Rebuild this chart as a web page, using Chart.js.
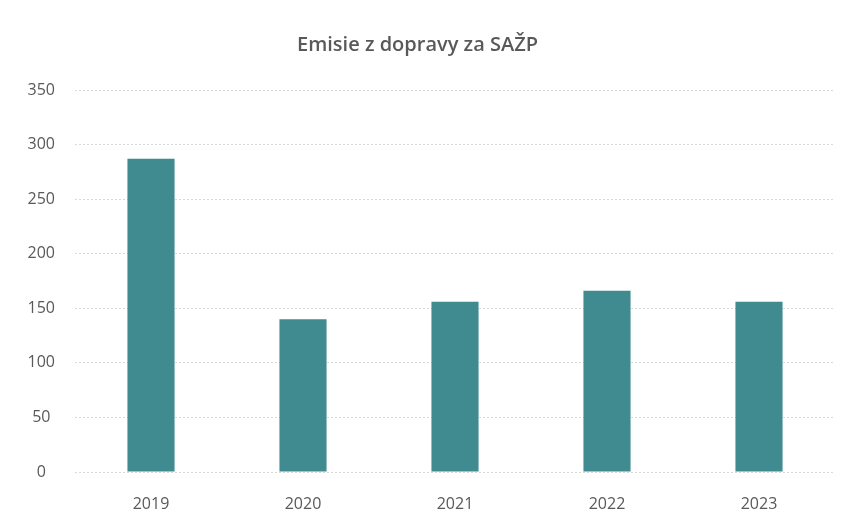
<!DOCTYPE html>
<html>
<head>
<meta charset="utf-8">
<script src="https://cdn.jsdelivr.net/npm/chart.js@4"></script>
<style>
  html, body { margin: 0; padding: 0; background: #fff; }
  #wrap { width: 851px; height: 524px; }
</style>
</head>
<body>
<div id="wrap"><canvas id="graf"></canvas></div>
<script>
const roky = ['2019', '2020', '2021', '2022', '2023'];
const emisie = [287, 140, 156, 166, 156];
const nazov = 'Emisie z dopravy za SAŽP';

const sivaText = '#595959';

new Chart(document.getElementById('graf'), {
  type: 'bar',
  data: {
    labels: roky,
    datasets: [{
      label: 'Emisie',
      data: emisie,
      backgroundColor: '#3f8b90',
      categoryPercentage: 1,
      barPercentage: 0.31
    }]
  },
  options: {
    responsive: true,
    maintainAspectRatio: false,
    animation: false,
    layout: { padding: { left: 0, right: 16, top: 20, bottom: 4 } },
    plugins: {
      legend: { display: false },
      tooltip: { enabled: false },
      title: {
        display: true,
        text: nazov,
        color: sivaText,
        font: { family: 'Open Sans', size: 20, weight: '600' },
        padding: { top: 13, bottom: 33 }
      }
    },
    scales: {
      x: {
        afterFit: s => { s.height = 48; },
        grid: { display: false },
        border: { display: false },
        ticks: {
          color: sivaText,
          font: { family: 'Open Sans', size: 16 },
          padding: 15
        }
      },
      y: {
        min: 0,
        max: 350,
        afterFit: s => { s.width = 75; },
        grid: { color: '#d8d8d8', drawTicks: false },
        border: { display: false, dash: [2, 2] },
        ticks: {
          stepSize: 50,
          color: sivaText,
          font: { family: 'Open Sans', size: 16 },
          crossAlign: 'center',
          padding: 20
        }
      }
    }
  }
});
</script>
</body>
</html>
